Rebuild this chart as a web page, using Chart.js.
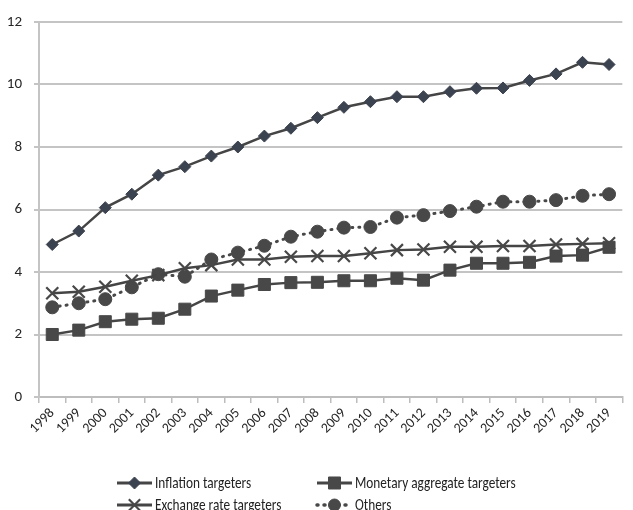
<!DOCTYPE html>
<html>
<head>
<meta charset="utf-8">
<script src="https://cdn.jsdelivr.net/npm/chart.js@4/dist/chart.umd.min.js"></script>
<style>
  html, body { margin: 0; padding: 0; background: #ffffff; }
  #wrap { width: 633px; height: 510px; position: relative; }
</style>
</head>
<body>
<div id="wrap"><canvas id="c" width="633" height="510"></canvas></div>
<script>
const years = ['1998','1999','2000','2001','2002','2003','2004','2005','2006','2007','2008',
               '2009','2010','2011','2012','2013','2014','2015','2016','2017','2018','2019'];

const inflationTargeters = [4.88, 5.31, 6.06, 6.49, 7.10, 7.37, 7.71, 8.00, 8.35, 8.60, 8.94,
                            9.27, 9.45, 9.61, 9.61, 9.77, 9.88, 9.89, 10.13, 10.34, 10.71, 10.64];
const monetaryTargeters  = [2.00, 2.14, 2.41, 2.49, 2.52, 2.81, 3.23, 3.42, 3.60, 3.66, 3.67,
                            3.72, 3.72, 3.80, 3.74, 4.06, 4.28, 4.28, 4.31, 4.51, 4.54, 4.79];
const exchangeTargeters  = [3.32, 3.37, 3.53, 3.72, 3.90, 4.12, 4.22, 4.40, 4.40, 4.49, 4.51,
                            4.51, 4.60, 4.70, 4.72, 4.81, 4.81, 4.83, 4.83, 4.88, 4.90, 4.92];
const otherRegimes       = [2.87, 3.00, 3.13, 3.51, 3.93, 3.85, 4.40, 4.62, 4.84, 5.13, 5.29,
                            5.42, 5.44, 5.74, 5.82, 5.95, 6.09, 6.25, 6.25, 6.30, 6.44, 6.49];

const yTicks = [0, 2, 4, 6, 8, 10, 12];

const FONT = 'Carlito, Calibri, Lato, sans-serif';
const LINE = '#454545';
const MARK = '#484848';
const DIAMOND = '#3c4350';

// Two-column legend drawn under the axis labels
const gridLegend = {
  id: 'gridLegend',
  afterDraw(chart) {
    const ctx = chart.ctx;
    const items = [
      { ds: 0, x: 117, y: 483 },
      { ds: 1, x: 317, y: 483 },
      { ds: 2, x: 117, y: 505 },
      { ds: 3, x: 317, y: 505 }
    ];
    ctx.save();
    items.forEach(it => {
      const ds = chart.data.datasets[it.ds];
      const len = 35;
      ctx.strokeStyle = ds.borderColor;
      ctx.lineWidth = ds.borderWidth + 0.5;
      ctx.lineCap = ds.borderDash ? 'round' : 'butt';
      ctx.setLineDash(ds.borderDash || []);
      ctx.beginPath();
      ctx.moveTo(it.x, it.y);
      ctx.lineTo(it.x + len, it.y);
      ctx.stroke();
      ctx.setLineDash([]);
      const r = ds.pointStyle === 'rectRot' ? 6 : ds.pointStyle === 'rect' ? 8.5 : ds.pointStyle === 'crossRot' ? 8 : 6;
      ctx.fillStyle = ds.pointBackgroundColor;
      ctx.strokeStyle = ds.pointBorderColor;
      ctx.lineWidth = ds.pointBorderWidth;
      Chart.helpers.drawPoint(ctx, {
        pointStyle: ds.pointStyle, radius: r, rotation: 0, borderWidth: ds.pointBorderWidth
      }, it.x + len / 2, it.y);
      // condensed label text
      ctx.save();
      ctx.translate(it.x + len + 3, it.y + 1);
      ctx.scale(0.83, 1);
      ctx.fillStyle = '#222222';
      ctx.font = '16px ' + FONT;
      ctx.textBaseline = 'middle';
      ctx.textAlign = 'left';
      ctx.fillText(ds.label, 0, 0);
      ctx.restore();
    });
    ctx.restore();
  }
};

new Chart(document.getElementById('c'), {
  type: 'line',
  data: {
    labels: years,
    datasets: [
      {
        label: 'Inflation targeters',
        data: inflationTargeters,
        borderColor: LINE, borderWidth: 2.5,
        pointStyle: 'rectRot', pointRadius: 6,
        pointBackgroundColor: DIAMOND, pointBorderColor: DIAMOND, pointBorderWidth: 1
      },
      {
        label: 'Monetary aggregate targeters',
        data: monetaryTargeters,
        borderColor: LINE, borderWidth: 2.5,
        pointStyle: 'rect', pointRadius: 8.5,
        pointBackgroundColor: MARK, pointBorderColor: MARK, pointBorderWidth: 1
      },
      {
        label: 'Exchange rate targeters',
        data: exchangeTargeters,
        borderColor: LINE, borderWidth: 2.5,
        pointStyle: 'crossRot', pointRadius: 8.5,
        pointBackgroundColor: MARK, pointBorderColor: MARK, pointBorderWidth: 2.2
      },
      {
        label: 'Others',
        data: otherRegimes,
        borderColor: MARK, borderWidth: 3, borderDash: [1, 6], borderCapStyle: 'round',
        pointStyle: 'circle', pointRadius: 6.5,
        pointBackgroundColor: MARK, pointBorderColor: MARK, pointBorderWidth: 1
      }
    ]
  },
  options: {
    responsive: false,
    animation: false,
    events: [],
    layout: { padding: { top: 22, right: 0, left: 0, bottom: 0 } },
    plugins: { legend: { display: false }, tooltip: { enabled: false }, title: { display: false } },
    scales: {
      x: {
        offset: true,
        grid: { offset: true, drawOnChartArea: false, drawTicks: true, tickLength: 6, color: '#bdbdbd', lineWidth: 1.5 },
        border: { display: true, color: '#bdbdbd', width: 2 },
        ticks: {
          autoSkip: false, minRotation: 45, maxRotation: 45, padding: 2,
          color: '#262626', font: { family: FONT, size: 14 }
        },
        afterFit(scale) { scale.height = 113; }
      },
      y: {
        min: 0, max: 12,
        afterBuildTicks(scale) { scale.ticks = yTicks.map(v => ({ value: v })); },
        grid: { color: '#c4c4c4', lineWidth: 2, drawTicks: true, tickLength: 5 },
        border: { display: true, color: '#c4c4c4', width: 2 },
        ticks: { color: '#262626', padding: 12, font: { family: FONT, size: 15 } },
        afterFit(scale) { scale.width = 39; }
      }
    }
  },
  plugins: [gridLegend]
});
</script>
</body>
</html>
